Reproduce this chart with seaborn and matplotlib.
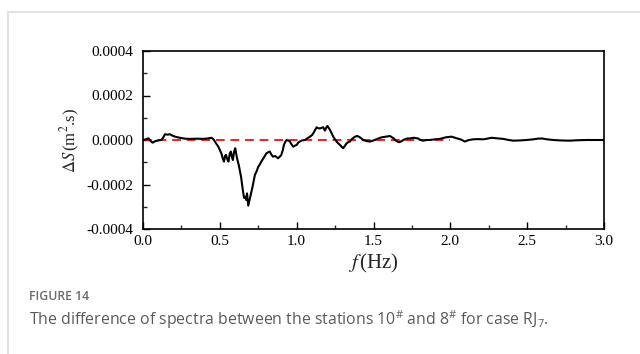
import matplotlib
matplotlib.use("Agg")
import matplotlib.pyplot as plt
import seaborn as sns
import pandas as pd
import numpy as np
from matplotlib.lines import Line2D
from matplotlib.ticker import MultipleLocator, FormatStrFormatter

# ---- data (ΔS in units of 1e-4 m^2.s) ----
freq = [0.00, 0.02, 0.035, 0.05, 0.063, 0.08, 0.10, 0.12, 0.135, 0.143, 0.16, 0.175, 0.19, 0.208,
        0.24, 0.273, 0.31, 0.349, 0.39, 0.42, 0.447, 0.46, 0.468, 0.49, 0.51, 0.52, 0.527, 0.535,
        0.54, 0.548, 0.556, 0.565, 0.572, 0.578, 0.585, 0.592, 0.60, 0.606, 0.612, 0.623, 0.638,
        0.645, 0.651, 0.658, 0.666, 0.672, 0.677, 0.685, 0.69, 0.696, 0.705, 0.713, 0.72, 0.728,
        0.74, 0.75, 0.76, 0.77, 0.785, 0.803, 0.815, 0.825, 0.835, 0.846, 0.86, 0.879, 0.89, 0.90,
        0.91, 0.917, 0.925, 0.934, 0.945, 0.956, 0.967, 0.978, 0.99, 1.00, 1.01, 1.02, 1.035,
        1.054, 1.07, 1.087, 1.10, 1.108, 1.12, 1.13, 1.14, 1.152, 1.162, 1.173, 1.184, 1.192,
        1.20, 1.208, 1.217, 1.228, 1.238, 1.25, 1.26, 1.27, 1.282, 1.292, 1.303, 1.315, 1.325,
        1.335, 1.347, 1.36, 1.38, 1.395, 1.412, 1.425, 1.434, 1.455, 1.477, 1.50, 1.525, 1.553,
        1.58, 1.607, 1.63, 1.65, 1.665, 1.678, 1.70, 1.72, 1.737, 1.76, 1.79, 1.805, 1.824, 1.845,
        1.867, 1.90, 1.932, 1.97, 2.008, 2.04, 2.07, 2.095, 2.12, 2.149, 2.18, 2.214, 2.24, 2.268,
        2.30, 2.344, 2.38, 2.41, 2.45, 2.496, 2.54, 2.57, 2.594, 2.63, 2.67, 2.72, 2.778, 2.83,
        2.887, 2.94, 3.00]
delta_s_e4 = [0.00, 0.03, 0.08, -0.05, -0.12, -0.05, -0.02, 0.00, 0.15, 0.26, 0.24, 0.26, 0.20, 0.15,
              0.10, 0.06, 0.05, 0.06, 0.05, 0.07, 0.10, 0.02, -0.07, -0.30, -0.60, -0.85, -0.97, -0.70,
              -0.67, -0.85, -0.97, -0.60, -0.52, -0.75, -0.90, -0.55, -0.37, -0.60, -0.82, -1.12, -1.65,
              -2.00, -2.32, -2.60, -2.55, -2.70, -2.40, -2.95, -2.80, -2.62, -2.35, -2.10, -1.85, -1.57,
              -1.40, -1.20, -1.10, -0.97, -0.80, -0.60, -0.55, -0.52, -0.65, -0.75, -0.72, -0.82, -0.75, -0.67,
              -0.45, -0.22, -0.10, 0.00, -0.02, -0.07, -0.20, -0.30, -0.25, -0.22, -0.12, -0.07, -0.02,
              0.00, 0.08, 0.15, 0.22, 0.30, 0.45, 0.57, 0.53, 0.52, 0.55, 0.57, 0.42, 0.55,
              0.63, 0.55, 0.45, 0.30, 0.15, 0.02, -0.07, -0.15, -0.22, -0.30, -0.37, -0.25, -0.15,
              -0.10, -0.07, 0.05, 0.15, 0.18, 0.12, 0.05, 0.00, -0.05, -0.07, -0.02, 0.05, 0.12,
              0.15, 0.18, 0.08, -0.05, -0.10, -0.07, 0.02, 0.07, 0.07, 0.10, 0.07, 0.00, -0.03, 0.00,
              0.00, 0.03, 0.05, 0.12, 0.15, 0.08, 0.02, -0.07, 0.00, 0.03, 0.04, 0.03, 0.06, 0.10,
              0.08, 0.05, 0.00, -0.03, -0.02, 0.00, 0.03, 0.06, 0.07, 0.03, 0.00, -0.02, -0.03, -0.01,
              0.00, 0.00, 0.00]
ref_freq = [0.0, 2.0]
ref_val = [0.0, 0.0]

x_ticks = [0.0, 0.5, 1.0, 1.5, 2.0, 2.5, 3.0]
y_ticks = [-0.0004, -0.0002, 0.0, 0.0002, 0.0004]

df = pd.DataFrame({"f": freq, "dS": np.array(delta_s_e4) * 1e-4})
df_ref = pd.DataFrame({"f": ref_freq, "dS": ref_val})

sns.set_theme(style="white")
plt.rcParams["font.family"] = ["Liberation Serif", "DejaVu Serif"]
plt.rcParams["mathtext.fontset"] = "custom"
plt.rcParams["mathtext.rm"] = "Open Sans"
plt.rcParams["mathtext.it"] = "Open Sans:italic"

fig = plt.figure(figsize=(6.4, 3.54), dpi=100)
ax = fig.add_axes([143 / 640, 1 - 229 / 354, 461 / 640, 178 / 354])

sns.lineplot(data=df_ref, x="f", y="dS", ax=ax, color="#ff1a1a", lw=1.4,
             linestyle=(0, (4.5, 3)), sort=False, estimator=None)
sns.lineplot(data=df, x="f", y="dS", ax=ax, color="black", lw=1.5, sort=False, estimator=None)

ax.set_xlim(0, 3.0)
ax.set_ylim(-0.0004, 0.0004)
ax.set_xticks(x_ticks)
ax.set_yticks(y_ticks)
ax.xaxis.set_major_formatter(FormatStrFormatter("%.1f"))
ax.yaxis.set_major_formatter(FormatStrFormatter("%.4f"))
ax.xaxis.set_minor_locator(MultipleLocator(0.25))
ax.yaxis.set_minor_locator(MultipleLocator(0.0001))
ax.tick_params(which="major", direction="in", length=5, width=1, labelsize=11,
               colors="black", left=True, bottom=True)
ax.tick_params(axis="y", which="major", pad=7)
ax.tick_params(axis="x", which="major", pad=4)
ax.tick_params(which="minor", direction="in", length=3, width=1, left=True, bottom=True)
for s in ax.spines.values():
    s.set_color("black")
    s.set_linewidth(1.2)

ax.set_xlabel("")
ax.set_ylabel("")
fig.text(373 / 640, 1 - 263 / 354, r"$f\,$(Hz)", fontsize=15, ha="center", va="center",
         family="Liberation Serif", math_fontfamily="stix")
fig.text(70 / 640, 1 - 140 / 354, r"$\Delta S\,$(m$^{2}$.s)", fontsize=12, ha="center",
         va="center", rotation=90, family="Liberation Serif", math_fontfamily="stix")

# frame lines of the page
fig.add_artist(Line2D([8 / 640, 8 / 640], [0, 1 - 12 / 354], transform=fig.transFigure,
                      color="#dcdcdc", lw=1.2))
fig.add_artist(Line2D([8 / 640, 1], [1 - 12 / 354, 1 - 12 / 354], transform=fig.transFigure,
                      color="#dcdcdc", lw=1.2))

fig.text(29 / 640, 1 - 297 / 354, "FIGURE 14", fontsize=8.8, color="#6a6a6a",
         family=["Open Sans", "DejaVu Sans"], fontweight="semibold", va="center")
fig.text(29 / 640, 1 - 320 / 354,
         r"The difference of spectra between the stations 10$^{\#}$ and 8$^{\#}$ for case RJ$_{7}$.",
         fontsize=11.4, color="#5a5a5a", family=["Open Sans", "DejaVu Sans"], va="center",
         math_fontfamily="custom")

fig.savefig("out.png", dpi=100)
